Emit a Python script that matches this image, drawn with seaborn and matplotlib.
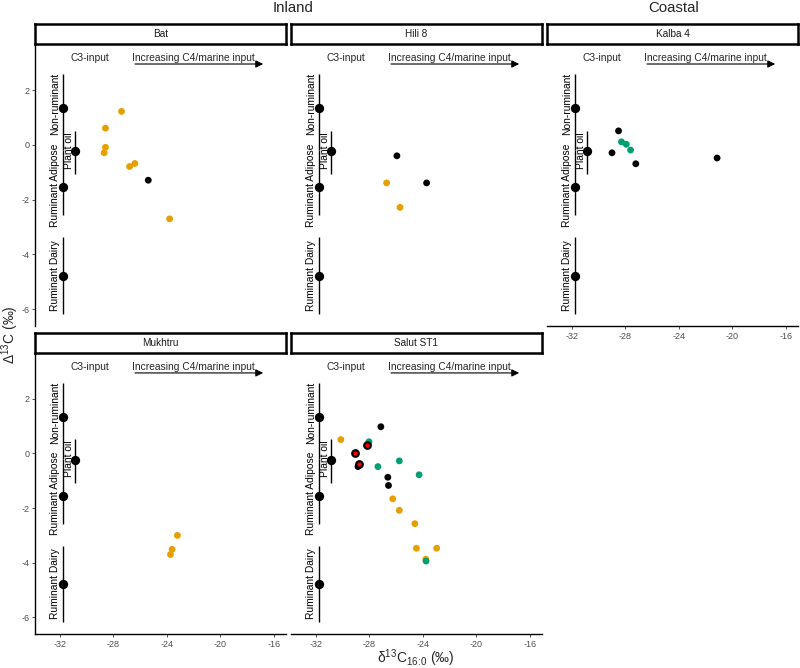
import matplotlib
matplotlib.use('Agg')
import matplotlib.pyplot as plt
import seaborn as sns
import pandas as pd

sns.set_theme(style='white')
plt.rcParams['font.family'] = ['Liberation Sans', 'DejaVu Sans']
plt.rcParams['mathtext.fontset'] = 'custom'
plt.rcParams['mathtext.rm'] = 'Liberation Sans'

# Sample data per site (d13C16:0, D13C, sample type)
bat_x = [-27.4, -28.6, -28.6, -28.7, -26.8, -26.4, -25.4, -23.8]
bat_y = [1.22, 0.61, -0.09, -0.29, -0.79, -0.68, -1.29, -2.70]
bat_type = ['B', 'B', 'B', 'B', 'B', 'B', 'A', 'B']

hili_x = [-25.95, -23.73, -26.72, -25.72]
hili_y = [-0.40, -1.39, -1.39, -2.28]
hili_type = ['A', 'A', 'B', 'B']

kalba_x = [-28.52, -28.30, -27.94, -27.62, -29.01, -27.23, -21.15]
kalba_y = [0.51, 0.11, 0.02, -0.19, -0.29, -0.69, -0.48]
kalba_type = ['A', 'C', 'C', 'C', 'A', 'A', 'A']

mukhtru_x = [-23.22, -23.62, -23.74]
mukhtru_y = [-3.00, -3.51, -3.70]
mukhtru_type = ['B', 'B', 'B']

salut_x = [-27.15, -30.14, -28.04, -28.16, -29.08, -28.86, -28.76, -27.37, -25.77,
           -24.29, -26.63, -26.58, -26.26, -25.77, -24.61, -24.49, -22.98, -23.79, -23.77]
salut_y = [0.98, 0.51, 0.43, 0.32, 0.01, -0.48, -0.38, -0.48, -0.27,
           -0.78, -0.87, -1.17, -1.66, -2.08, -2.57, -3.47, -3.47, -3.87, -3.94]
salut_type = ['A', 'B', 'C', 'D', 'D', 'A', 'D', 'C', 'C',
              'C', 'A', 'A', 'B', 'B', 'B', 'B', 'B', 'B', 'C']

sites = ['Bat', 'Hili 8', 'Kalba 4', 'Mukhtru', 'Salut ST1']
site_x = [bat_x, hili_x, kalba_x, mukhtru_x, salut_x]
site_y = [bat_y, hili_y, kalba_y, mukhtru_y, salut_y]
site_type = [bat_type, hili_type, kalba_type, mukhtru_type, salut_type]

type_colors = {'A': 'black', 'B': '#E69F00', 'C': '#009E73', 'D': 'red'}

# Reference fat ranges
ref_names = ['Non-ruminant', 'Ruminant Adipose', 'Ruminant Dairy', 'Plant oil']
ref_x = [-31.75, -31.75, -31.75, -30.88]
ref_y = [1.34, -1.55, -4.77, -0.24]
ref_lo = [-0.2, -2.57, -6.17, -1.07]
ref_hi = [2.59, -0.2, -3.37, 0.52]
ref_label_x = [-32.37, -32.37, -32.37, -31.33]
ref_label_y = [1.5, -1.47, -4.77, -0.2]

xticks = [-32, -28, -24, -20, -16]
yticks = [2, 0, -2, -4, -6]

W, H = 800, 668
fig = plt.figure(figsize=(W / 100, H / 100), dpi=100)

col_left = [35, 291, 547]
panel_w = 251
row_top = [44, 353]
panel_h = [282, 281]
strip_h = 20

positions = [(0, 0), (1, 0), (2, 0), (0, 1), (1, 1)]
bottom_axis = ['Kalba 4', 'Mukhtru', 'Salut ST1']

for site, xs, ys, ts, (c, r) in zip(sites, site_x, site_y, site_type, positions):
    left = col_left[c] / W
    bottom = 1 - (row_top[r] + panel_h[r]) / H
    ax = fig.add_axes([left, bottom, panel_w / W, panel_h[r] / H])
    ax.set_facecolor('white')

    # reference ranges
    ax.vlines(ref_x, ref_lo, ref_hi, color='black', lw=1.0, zorder=2)
    sns.scatterplot(x=ref_x, y=ref_y, color='black', s=45, linewidth=0, ax=ax, zorder=3)
    for name, lx, ly in zip(ref_names, ref_label_x, ref_label_y):
        ax.text(lx, ly, name, rotation=90, ha='center', va='center', fontsize=7.4, color='black')

    df = pd.DataFrame({'x': xs, 'y': ys, 'type': ts})
    plain = df[df['type'] != 'D']
    sns.scatterplot(data=plain, x='x', y='y', hue='type', palette=type_colors,
                    s=24, linewidth=0, legend=False, ax=ax, zorder=4)
    flagged = df[df['type'] == 'D']
    if len(flagged):
        sns.scatterplot(data=flagged, x='x', y='y', color='red', edgecolor='black',
                        s=22, linewidth=1.6, legend=False, ax=ax, zorder=5)

    # annotations
    ax.text(-29.8, 3.17, 'C3-input', ha='center', va='center', fontsize=7.4)
    ax.text(-22.0, 3.17, 'Increasing C4/marine input', ha='center', va='center', fontsize=7.4)
    ax.annotate('', xy=(-16.6, 2.95), xytext=(-26.6, 2.95),
                arrowprops=dict(arrowstyle='-|>', color='black', lw=0.8, mutation_scale=11))

    ax.set_xlim(-33.87, -15.1)
    ax.set_ylim(-6.61, 3.68)
    ax.set_xticks(xticks)
    ax.set_yticks(yticks)
    ax.set_xlabel('')
    ax.set_ylabel('')
    for s in ['top', 'right']:
        ax.spines[s].set_visible(False)
    show_left = c == 0
    show_bottom = site in bottom_axis
    ax.spines['left'].set_visible(show_left)
    ax.spines['bottom'].set_visible(show_bottom)
    for s in ['left', 'bottom']:
        ax.spines[s].set_color('black')
        ax.spines[s].set_linewidth(1.0)
    ax.tick_params(axis='both', direction='out', length=2.5, width=0.6, color='#333333',
                   labelsize=6.5, labelcolor='#4D4D4D', pad=1.5)
    ax.tick_params(axis='y', left=show_left, labelleft=show_left)
    ax.tick_params(axis='x', bottom=show_bottom, labelbottom=show_bottom)
    ax.set_xticklabels([str(t) for t in xticks])
    ax.set_yticklabels([str(t) for t in yticks])

    # strip
    sax = fig.add_axes([left, 1 - row_top[r] / H, panel_w / W, strip_h / H])
    sax.set_xticks([])
    sax.set_yticks([])
    sax.set_facecolor('white')
    for s in sax.spines.values():
        s.set_visible(True)
        s.set_color('black')
        s.set_linewidth(1.8)
    sax.text(0.5, 0.5, site, ha='center', va='center', fontsize=7.2, color='#1A1A1A',
             transform=sax.transAxes)

fig.text(293 / W, 1 - 8 / H, 'Inland', ha='center', va='center', fontsize=10.8)
fig.text(674 / W, 1 - 8 / H, 'Coastal', ha='center', va='center', fontsize=10.8)
fig.text(10 / W, 1 - 335 / H, 'Δ$^{13}$C (‰)', rotation=90, ha='center', va='center', fontsize=10)
fig.text(416 / W, 1 - 658 / H, r'δ$^{13}$C$_{16\!:\!0}$ (‰)', ha='center', va='center', fontsize=10)

fig.savefig('out.png', dpi=100, facecolor='white')
